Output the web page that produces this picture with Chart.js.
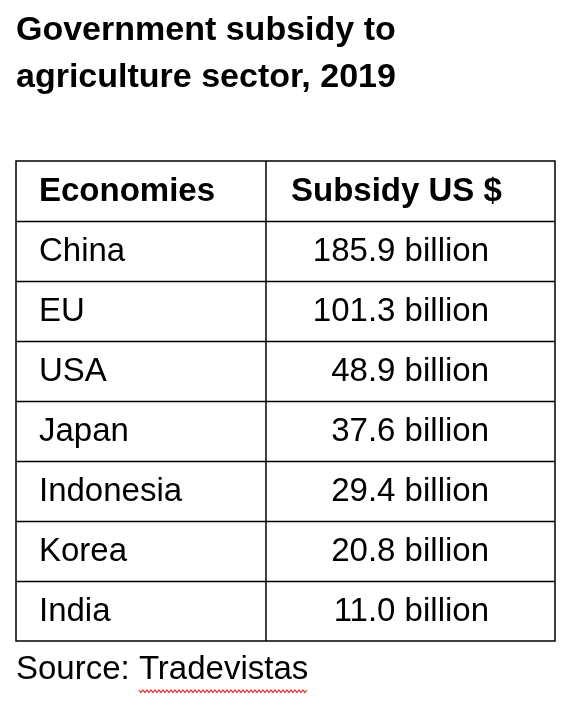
<!DOCTYPE html>
<html>
<head>
<meta charset="utf-8">
<script src="https://cdn.jsdelivr.net/npm/chart.js@4"></script>
<style>
  html, body { margin: 0; padding: 0; background: #fff; }
</style>
</head>
<body>
<canvas id="tabla" width="574" height="708"></canvas>
<script>
// ── Datos de la tabla ──────────────────────────────────────────────
const titleLines = ['Government subsidy to', 'agriculture sector, 2019'];
const headers = ['Economies', 'Subsidy US $'];
const economies = ['China', 'EU', 'USA', 'Japan', 'Indonesia', 'Korea', 'India'];
const subsidies = [185.9, 101.3, 48.9, 37.6, 29.4, 20.8, 11.0];
const sourceLabel = 'Source: ';
const sourceName = 'Tradevistas';

const FONT = '"Liberation Sans", Arial, sans-serif';

// Plugin que dibuja la tabla usando las escalas del gráfico
const tablePlugin = {
    id: 'tablePlugin',
    afterDraw(chart) {
        const { ctx, chartArea: a } = chart;
        const y = chart.scales.y;
        const rows = [headers[0], ...economies];
        const rowH = (a.bottom - a.top) / rows.length;
        const colX = 266;

        ctx.save();
        // Título
        ctx.fillStyle = '#000';
        ctx.font = `bold 34px ${FONT}`;
        ctx.textBaseline = 'middle';
        ctx.textAlign = 'left';
        ctx.fillText(titleLines[0], 16, 31);
        ctx.fillText(titleLines[1], 16, 78);

        // Rejilla
        ctx.strokeStyle = '#000';
        ctx.lineWidth = 1.5;
        ctx.strokeRect(a.left, a.top, a.right - a.left, a.bottom - a.top);
        for (let i = 1; i < rows.length; i++) {
            const ly = Math.round(a.top + i * rowH) + 0.5;
            ctx.beginPath(); ctx.moveTo(a.left, ly); ctx.lineTo(a.right, ly); ctx.stroke();
        }
        ctx.beginPath(); ctx.moveTo(colX, a.top); ctx.lineTo(colX, a.bottom); ctx.stroke();

        // Celdas
        rows.forEach((name, i) => {
            const cy = y.getPixelForTick(i) + 1;
            ctx.font = (i === 0 ? 'bold ' : '') + `33px ${FONT}`;
            ctx.textAlign = 'left';
            ctx.fillText(name, 39, cy);
            if (i === 0) {
                ctx.fillText(headers[1], 291, cy);
            } else {
                ctx.textAlign = 'right';
                ctx.fillText(subsidies[i - 1].toFixed(1) + ' billion', 489, cy);
            }
        });

        // Fuente con subrayado ondulado
        ctx.font = `33px ${FONT}`;
        ctx.textAlign = 'left';
        ctx.fillText(sourceLabel, 16, 670);
        const sx = 16 + ctx.measureText(sourceLabel).width;
        ctx.fillText(sourceName, sx, 670);
        const sw = ctx.measureText(sourceName).width;
        ctx.strokeStyle = '#e0302a';
        ctx.lineWidth = 1.2;
        ctx.beginPath();
        for (let px = 0; px <= sw; px += 2) {
            const py = 690 + ((px / 2) % 2 === 0 ? 0 : 2.5);
            px === 0 ? ctx.moveTo(sx + px, py) : ctx.lineTo(sx + px, py);
        }
        ctx.stroke();
        ctx.restore();
    },
};

new Chart(document.getElementById('tabla'), {
    type: 'bar',
    data: {
        labels: [headers[0], ...economies],
        datasets: [{ data: [null, ...subsidies], backgroundColor: 'transparent' }],
    },
    options: {
        indexAxis: 'y',
        responsive: false,
        animation: false,
        layout: { padding: { left: 16, right: 19, top: 161, bottom: 67 } },
        plugins: { legend: { display: false }, tooltip: { enabled: false } },
        scales: {
            x: { display: false, min: 0, max: 200 },
            y: { display: false, offset: true },
        },
    },
    plugins: [tablePlugin],
});
</script>
</body>
</html>
